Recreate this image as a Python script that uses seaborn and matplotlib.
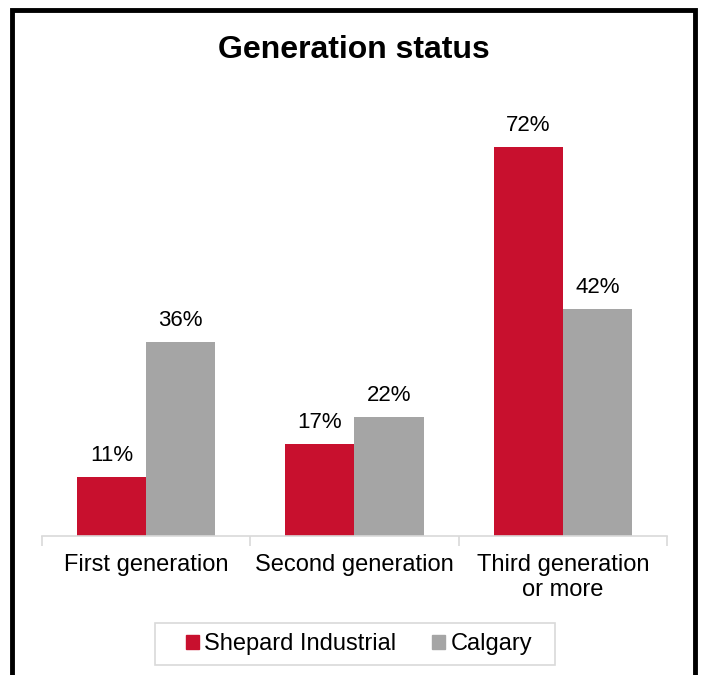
import pandas as pd
import matplotlib.pyplot as plt
import matplotlib.patches as mpatches
import seaborn as sns

# Chart values
categories = ['First generation', 'Second generation', 'Third generation\nor more']
shepard = [11, 17, 72]
calgary = [36, 22, 42]
series_names = ['Shepard Industrial', 'Calgary']
colors = ['#C8102E', '#A5A5A5']

df = pd.DataFrame({
    'category': categories * 2,
    'value': shepard + calgary,
    'series': [series_names[0]] * 3 + [series_names[1]] * 3,
})

sns.set_style('white')
plt.rcParams['font.family'] = ['Liberation Sans', 'DejaVu Sans']
plt.rcParams['text.color'] = 'black'
plt.rcParams['xtick.labelcolor'] = 'black'

W, H = 701, 675
fig = plt.figure(figsize=(W / 100, H / 100), dpi=100)
ax = fig.add_axes([0.0599, 0.2059, 0.8916, 0.64])

sns.barplot(data=df, x='category', y='value', hue='series', palette=colors,
            width=0.664, saturation=1, linewidth=0, ax=ax, legend=True)

ax.set_ylim(0, 80)
ax.set_xlim(-0.5, 2.5)
ax.set_xlabel('')
ax.set_ylabel('')
ax.set_yticks([])

for side in ['top', 'right', 'left']:
    ax.spines[side].set_visible(False)
ax.spines['bottom'].set_color('#D9D9D9')
ax.spines['bottom'].set_linewidth(1.2)

# category separators as minor ticks
ax.set_xticks([-0.5, 0.5, 1.5, 2.5], minor=True)
ax.tick_params(axis='x', which='minor', length=7, color='#D9D9D9', width=1.2, bottom=True)
ax.tick_params(axis='x', which='major', length=0, labelsize=17, pad=13)

for container in ax.containers:
    ax.bar_label(container, labels=[f'{v:.0f}%' for v in container.datavalues],
                 padding=8, fontsize=16, color='black')

fig.text(0.505, 0.926, 'Generation status', fontsize=23, fontweight='bold',
         ha='center', va='center')

# legend without its own frame, box drawn separately for wider side padding
handles = [mpatches.Patch(color=c) for c in colors]
ax.legend(handles, series_names, loc='center', bbox_to_anchor=(359 / W, 1 - 644 / H),
          bbox_transform=fig.transFigure,
          ncol=2, fontsize=17, frameon=False,
          handlelength=0.55, handleheight=0.55, handletextpad=0.25, columnspacing=1.5)
fig.patches.append(mpatches.Rectangle((155 / W, 1 - 665 / H), 400 / W, 42 / H,
                                      transform=fig.transFigure, fill=False,
                                      edgecolor='#D9D9D9', linewidth=1.2))

# outer black frame
fig.patches.append(mpatches.Rectangle((0.017, -0.02), 0.974, 1.005, transform=fig.transFigure,
                                      fill=False, edgecolor='black', linewidth=3.5))

plt.savefig('out.png', dpi=100)
plt.close()
